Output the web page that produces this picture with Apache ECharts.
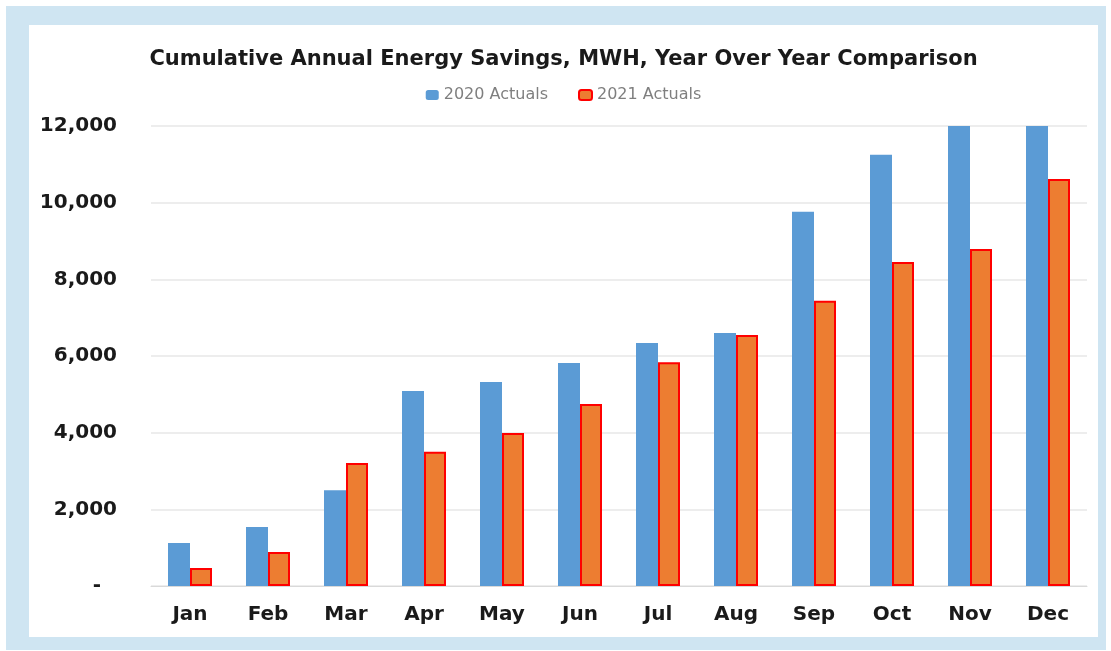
<!DOCTYPE html>
<html>
<head>
<meta charset="utf-8">
<title>Cumulative Annual Energy Savings</title>
<style>
  html, body { margin: 0; padding: 0; background: #fff; }
  #frame { position: absolute; left: 6px; top: 6px; width: 1100px; height: 644px; background: #cfe5f2; }
  #chart { position: absolute; left: 29px; top: 25px; width: 1069px; height: 612px; background: #fff; }
</style>
</head>
<body>
<div id="frame"></div>
<div id="chart"></div>
<script src="https://cdn.jsdelivr.net/npm/echarts@6/dist/echarts.min.js"></script>
<script>
// months along the x axis
var months = ['Jan', 'Feb', 'Mar', 'Apr', 'May', 'Jun', 'Jul', 'Aug', 'Sep', 'Oct', 'Nov', 'Dec'];
// cumulative savings, MWH
var actuals2020 = [1120, 1540, 2500, 5090, 5320, 5820, 6340, 6600, 9760, 11250, 12000, 12000];
var actuals2021 = [470, 890, 3210, 3500, 3990, 4750, 5840, 6550, 7440, 8450, 8790, 10620];

var chart = echarts.init(document.getElementById('chart'));
var font = 'DejaVu Sans';

chart.setOption({
  animation: false,
  title: {
    text: 'Cumulative Annual Energy Savings, MWH, Year Over Year Comparison',
    left: 'center',
    top: 19,
    textStyle: { fontFamily: font, fontSize: 21, fontWeight: 'bold', color: '#1a1a1a' }
  },
  legend: {
    top: 57,
    left: 'center',
    itemWidth: 13,
    itemHeight: 10,
    itemGap: 30,
    textStyle: { fontFamily: font, fontSize: 16, color: '#7f7f7f' },
    data: ['2020 Actuals', '2021 Actuals']
  },
  grid: { left: 122, right: 11, top: 101, bottom: 51 },
  xAxis: {
    type: 'category',
    data: months,
    axisLine: { lineStyle: { color: '#d9d9d9' } },
    axisTick: { show: false },
    axisLabel: { fontFamily: font, fontSize: 20, fontWeight: 'bold', color: '#1a1a1a', margin: 19 }
  },
  yAxis: {
    type: 'value',
    min: 0,
    max: 12000,
    interval: 2000,
    axisLine: { show: false },
    axisTick: { show: false },
    splitLine: { lineStyle: { color: '#ededed', width: 2 } },
    axisLabel: {
      fontFamily: font, fontSize: 20, fontWeight: 'bold', color: '#1a1a1a', margin: 34,
      formatter: function (v) { return v === 0 ? '{dash|-}' : v.toLocaleString('en-US'); },
      rich: { dash: { fontFamily: font, fontSize: 20, fontWeight: 'bold', color: '#1a1a1a', padding: [0, 16, 0, 0] } }
    }
  },
  series: [
    {
      name: '2020 Actuals',
      type: 'bar',
      data: actuals2020,
      barWidth: 22,
      barGap: '0%',
      itemStyle: { color: '#5b9bd5' }
    },
    {
      name: '2021 Actuals',
      type: 'bar',
      data: actuals2021,
      barWidth: 22,
      itemStyle: { color: '#ed7d31', borderColor: '#ff0000', borderWidth: 2 }
    }
  ]
});
</script>
</body>
</html>
